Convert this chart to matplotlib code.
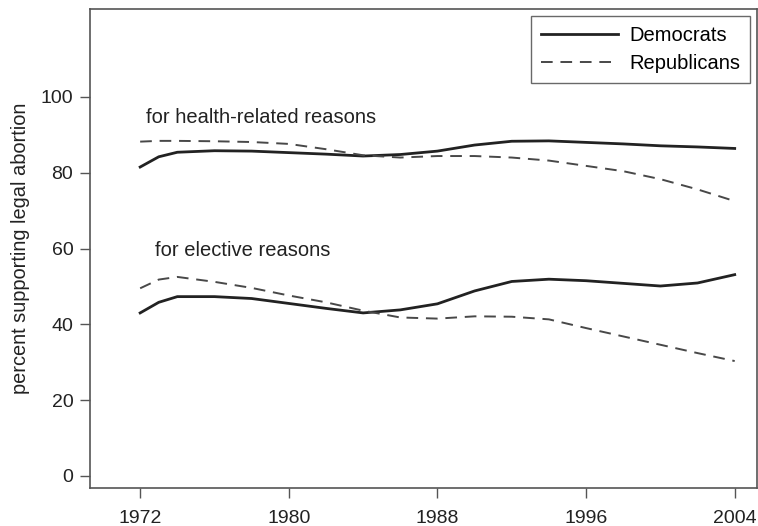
import matplotlib.pyplot as plt

# years of the smoothed series
years = [1972, 1973, 1974, 1976, 1978, 1980, 1982, 1984, 1986, 1988,
         1990, 1992, 1994, 1996, 1998, 2000, 2002, 2004]

# health-related reasons
health_dem = [81.5, 84.2, 85.4, 85.8, 85.7, 85.3, 84.9, 84.4, 84.8, 85.7,
              87.3, 88.3, 88.4, 88.0, 87.6, 87.1, 86.8, 86.4]
health_rep = [88.2, 88.4, 88.4, 88.3, 88.1, 87.6, 86.2, 84.6, 84.0, 84.4,
              84.4, 84.0, 83.2, 81.8, 80.4, 78.3, 75.6, 72.5]

# elective reasons
elective_dem = [43.0, 45.8, 47.3, 47.3, 46.8, 45.5, 44.2, 43.0, 43.8, 45.4,
                48.8, 51.3, 51.9, 51.5, 50.8, 50.1, 50.9, 53.1]
elective_rep = [49.5, 51.8, 52.5, 51.2, 49.6, 47.6, 45.8, 43.6, 41.8, 41.5,
                42.1, 42.0, 41.3, 39.0, 36.8, 34.6, 32.4, 30.3]

x_ticks = [1972, 1980, 1988, 1996, 2004]
y_ticks = [0, 20, 40, 60, 80, 100]

plt.rcParams['font.family'] = ['Liberation Sans', 'DejaVu Sans']

fig = plt.figure(figsize=(7.58, 5.26), dpi=100)
ax = fig.add_axes([90 / 758, 38 / 526, 667 / 758, 479 / 526])

dem_style = dict(color='#222222', lw=2.0, ls='-')
rep_style = dict(color='#484848', lw=1.4, ls=(0, (6, 4)))

ax.plot(years, health_dem, label='Democrats', **dem_style)
ax.plot(years, health_rep, label='Republicans', **rep_style)
ax.plot(years, elective_dem, **dem_style)
ax.plot(years, elective_rep, **rep_style)

ax.text(1972.3, 94.7, 'for health-related reasons', fontsize=14.5, va='center', color='#222222')
ax.text(1972.8, 59.6, 'for elective reasons', fontsize=14.5, va='center', color='#222222')

ax.set_xlim(1969.3, 2005.2)
ax.set_ylim(-3.2, 123.2)
ax.set_xticks(x_ticks)
ax.set_yticks(y_ticks)
ax.tick_params(direction='out', length=7, width=1, color='#555555',
               labelsize=14, labelcolor='#222222', pad=5)
ax.tick_params(axis='x', pad=9)
for s in ax.spines.values():
    s.set_color('#555555')
    s.set_linewidth(1.2)

ax.set_ylabel('percent supporting legal abortion', fontsize=14.4, color='#222222', labelpad=8)

leg = ax.legend(loc='upper right', fontsize=14.5, handlelength=3.8, handletextpad=0.55,
                frameon=True, fancybox=False, borderaxespad=0.35, labelspacing=0.42,
                borderpad=0.5)
leg.get_frame().set_edgecolor('#444444')
leg.get_frame().set_linewidth(1.0)

fig.savefig('out.png', dpi=100)
